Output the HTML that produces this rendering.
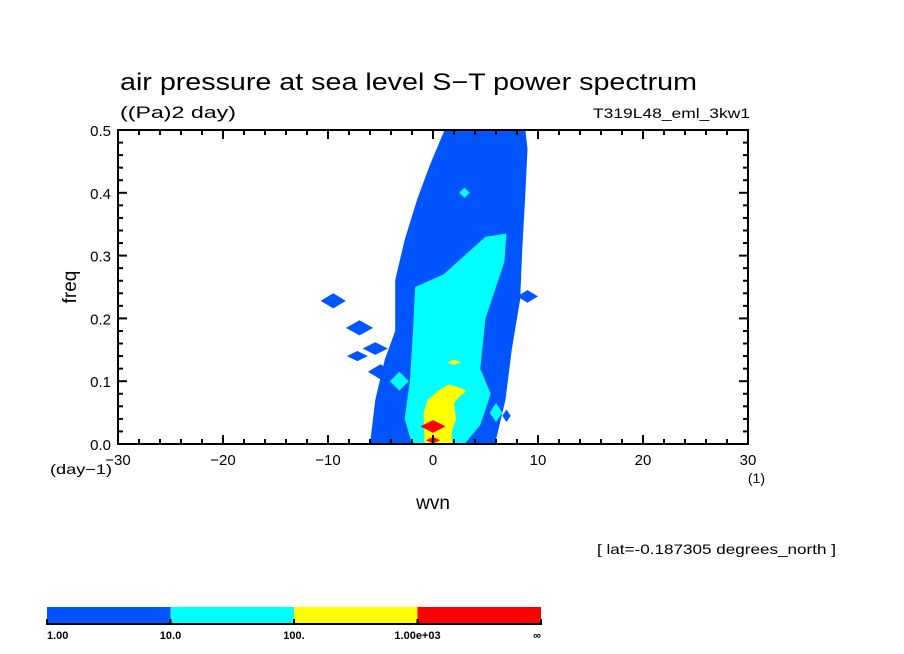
<!DOCTYPE html>
<html><head><meta charset="utf-8"><style>
body{margin:0;background:#fff;}
svg{display:block;font-family:"Liberation Sans",sans-serif;}
</style></head><body>
<svg id="c" width="904" height="654" viewBox="0 0 904 654">
<text x="120" y="90" font-size="24" textLength="577" lengthAdjust="spacingAndGlyphs">air pressure at sea level S−T power spectrum</text>
<text x="120" y="118" font-size="17" textLength="116" lengthAdjust="spacingAndGlyphs">((Pa)2 day)</text>
<text x="750" y="118" font-size="14" text-anchor="end" textLength="157" lengthAdjust="spacingAndGlyphs">T319L48_eml_3kw1</text>
<g id="plot"></g>
<g id="axes"></g>
<text x="76" y="287" font-size="19" text-anchor="middle" transform="rotate(-90 76 287)">freq</text>
<text x="433" y="509" font-size="19" text-anchor="middle">wvn</text>
<text x="50" y="474" font-size="14" textLength="62" lengthAdjust="spacingAndGlyphs">(day−1)</text>
<text x="765" y="483" font-size="14" text-anchor="end">(1)</text>
<text x="597" y="554" font-size="14" textLength="239" lengthAdjust="spacingAndGlyphs">[ lat=-0.187305 degrees_north ]</text>
<g id="cbar"></g>
</svg>
<script>
const xTicks=[-30,-20,-10,0,10,20,30];
const yTicks=[0.0,0.1,0.2,0.3,0.4,0.5];
const levelColors=["#0055ff","#00ffff","#ffff00","#ff0000"];
const levelLabels=["1.00","10.0","100.","1.00e+03","∞"];
const bluePoly=[[1.1,0.5],[-0.3,0.444],[-1.5,0.39],[-2.7,0.325],[-3.6,0.261],[-3.6,0.18],[-4.6,0.134],[-5.5,0.07],[-6,0],[5.9,0],[6.9,0.07],[7.5,0.15],[8.3,0.23],[8.5,0.31],[8.8,0.4],[9,0.47],[8.8,0.5]];
const blueBlobs=[[-9.5,0.228,1.2,0.012],[-7,0.185,1.3,0.012],[-5.5,0.152,1.2,0.01],[-7.2,0.14,1,0.008],[-5,0.115,1.2,0.012],[7,0.045,0.4,0.01],[9,0.235,1,0.01],[-1.8,0.215,1.5,0.03]];
const cyanPoly=[[-2,0],[-2.7,0.04],[-2.2,0.1],[-1.9,0.18],[-1.7,0.25],[1,0.27],[3,0.3],[5,0.33],[7,0.335],[6.8,0.29],[6,0.25],[5,0.2],[4.5,0.12],[5.5,0.08],[4.5,0.03],[3,0]];
const cyanBlobs=[[-3.2,0.1,0.9,0.015],[3,0.4,0.5,0.008],[6,0.05,0.6,0.015]];
const yellowPoly=[[-0.8,0],[-0.9,0.05],[-0.5,0.07],[0.5,0.085],[1.5,0.095],[2.5,0.09],[3.2,0.085],[2.5,0.075],[2,0.065],[2.2,0.04],[1.8,0.02],[1.8,0]];
const yellowBlobs=[[2,0.13,0.7,0.004]];
const redBlobs=[[0,0.028,1.2,0.01],[0,0.006,0.7,0.005]];
const X=k=>118+(k+30)*10.5, Y=f=>444-f*628;
const NS="http://www.w3.org/2000/svg";
const plot=document.getElementById('plot'),axes=document.getElementById('axes'),cbar=document.getElementById('cbar');
function mk(t,a,p){const e=document.createElementNS(NS,t);for(const k in a)e.setAttribute(k,a[k]);p.appendChild(e);return e;}
function poly(pts,col,name){const e=mk('polygon',{points:pts.map(p=>X(p[0])+','+Y(p[1])).join(' '),fill:col},plot);

}
function blobs(list,col,name){list.forEach(b=>poly([[b[0]-b[2],b[1]],[b[0],b[1]+b[3]],[b[0]+b[2],b[1]],[b[0],b[1]-b[3]]],col,name));}
poly(bluePoly,levelColors[0],'contour-level-1');blobs(blueBlobs,levelColors[0],'contour-level-1-blob');
poly(cyanPoly,levelColors[1],'contour-level-2');blobs(cyanBlobs,levelColors[1],'contour-level-2-blob');
poly(yellowPoly,levelColors[2],'contour-level-3');blobs(yellowBlobs,levelColors[2],'contour-level-3-blob');
blobs(redBlobs,levelColors[3],'contour-level-4');
const fr=mk('rect',{x:118,y:130,width:630,height:314,fill:'none',stroke:'#000','stroke-width':2},axes);


for(let k=-30;k<=30;k+=2){const maj=k%10===0,L=maj?9:5;
mk('line',{x1:X(k),x2:X(k),y1:444,y2:444-L,stroke:'#000','stroke-width':2},axes);
mk('line',{x1:X(k),x2:X(k),y1:130,y2:130+L,stroke:'#000','stroke-width':2},axes);}
for(let i=0;i<=25;i++){const f=i*0.02,maj=i%5===0,L=maj?9:5;
mk('line',{x1:118,x2:118+L,y1:Y(f),y2:Y(f),stroke:'#000','stroke-width':2},axes);
mk('line',{x1:748,x2:748-L,y1:Y(f),y2:Y(f),stroke:'#000','stroke-width':2},axes);}
xTicks.forEach(k=>{const t=mk('text',{x:X(k),y:465,'font-size':15,'text-anchor':'middle'},axes);t.textContent=String(k).replace('-','−');

});
yTicks.forEach(f=>{const t=mk('text',{x:111,y:Y(f)+6,'font-size':15,'text-anchor':'end'},axes);t.textContent=f.toFixed(1);

});
const cx0=47,cw=(541-47)/4;
levelColors.forEach((c,i)=>{const r=mk('rect',{x:cx0+i*cw,y:607,width:cw,height:17,fill:c},cbar);

});
mk('line',{x1:47,x2:541,y1:624,y2:624,stroke:'#000','stroke-width':2},cbar);
levelLabels.forEach((l,i)=>{const x=cx0+i*cw;mk('line',{x1:x,x2:x,y1:619,y2:625,stroke:'#000','stroke-width':2},cbar);
const t=mk('text',{x:i===0?47:(i===4?541:x),y:639,'font-size':11,'font-weight':'bold','text-anchor':i===0?'start':(i===4?'end':'middle')},cbar);t.textContent=l;

});
</script>
</body></html>
